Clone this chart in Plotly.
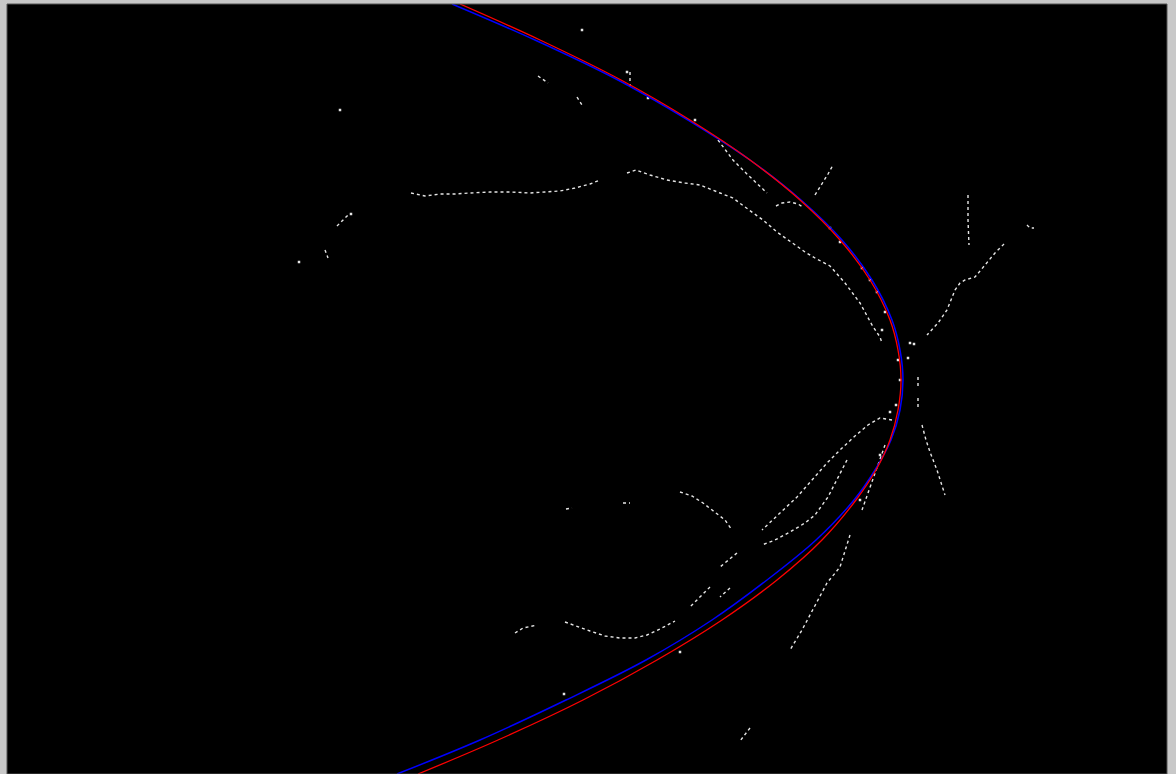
import plotly.graph_objects as go

# ---- fitted curves (image pixel coordinates) ----
curve_y = [4, 40, 80, 120, 160, 200, 240, 280, 320, 350, 380, 410, 440, 470, 500, 540, 580, 620, 660, 700, 740, 774]
red_x = [460, 540, 621, 690, 750, 800, 840, 870, 890, 898, 901, 898, 890, 876, 856, 822, 777, 722, 657, 583, 498, 418]
blue_x = [452, 535, 618, 688, 750, 801, 842, 872, 892, 900, 903, 900, 891, 875, 854, 816, 767, 712, 646, 566, 480, 397]

# ---- white edge fragments (x list, y list) ----
top_horizontal_x = [411, 425, 440, 455, 470, 490, 510, 530, 545, 560, 575, 590, 600]
top_horizontal_y = [193, 196, 194, 194, 193, 192, 192, 193, 192, 191, 188, 184, 180]
upper_long_x = [627, 636, 650, 667, 685, 700, 720, 733, 745, 763, 777, 790, 805, 815, 830, 845, 860, 872, 880, 882]
upper_long_y = [173, 170, 175, 180, 183, 185, 193, 198, 207, 220, 232, 241, 252, 258, 266, 283, 303, 325, 337, 343]
inner_parallel_x = [718, 733, 748, 756, 767]
inner_parallel_y = [140, 160, 175, 183, 193]
small_arc_x = [776, 782, 790, 798, 803]
small_arc_y = [206, 203, 202, 204, 207]
up_right_x = [815, 822, 828, 833]
up_right_y = [195, 184, 174, 165]
right_vertical_x = [968, 968, 969]
right_vertical_y = [195, 220, 245]
hook_x = [1027, 1030, 1034]
hook_y = [225, 228, 228]
right_diag_x = [1004, 995, 985, 975, 965, 960, 955, 947, 938, 927]
right_diag_y = [244, 253, 265, 277, 280, 283, 290, 310, 323, 335]
vert_dash_x = [918, 918, None, 918, 918]
vert_dash_y = [377, 388, None, 398, 408]
lower_right_x = [922, 926, 930, 937, 945]
lower_right_y = [425, 440, 452, 470, 495]
lower_arc_x = [892, 880, 868, 855, 840, 827, 812, 797, 780, 762]
lower_arc_y = [420, 418, 425, 436, 450, 463, 480, 497, 513, 530]
lower_mid_x = [847, 838, 828, 815, 805, 790, 775, 762]
lower_mid_y = [460, 478, 497, 515, 523, 532, 540, 545]
near_curve_x = [885, 878, 870, 862]
near_curve_y = [445, 465, 487, 510]
left_arc_x = [680, 692, 703, 715, 725, 732]
left_arc_y = [492, 496, 503, 512, 520, 530]
short_a_x = [566, 572, None, 623, 630]
short_a_y = [509, 508, None, 503, 503]
short_b_x = [737, 720, None, 710, 690, None, 730, 720]
short_b_y = [553, 567, None, 587, 607, None, 588, 597]
bottom_arc_x = [565, 578, 590, 605, 620, 635, 647, 660, 675]
bottom_arc_y = [622, 627, 631, 636, 638, 638, 635, 629, 621]
left_small_x = [515, 523, 537]
left_small_y = [633, 628, 625]
long_lower_x = [850, 845, 840, 827, 813, 802, 790]
long_lower_y = [535, 550, 567, 583, 610, 630, 650]
misc_x = [750, 740, None, 538, 548, None, 577, 582, None, 630, 630, None, 337, 348, None, 325, 328]
misc_y = [728, 741, None, 76, 83, None, 97, 105, None, 72, 87, None, 226, 215, None, 250, 258]

speck_x = [582, 340, 299, 351, 564, 648, 695, 830, 840, 862, 870, 877, 885, 882, 898, 900, 896, 890,
           880, 860, 910, 914, 908, 627, 680]
speck_y = [30, 110, 262, 214, 694, 98, 120, 228, 242, 268, 280, 292, 312, 330, 360, 380, 405, 412,
           455, 500, 343, 344, 358, 72, 652]

fragments = [
    (top_horizontal_x, top_horizontal_y), (upper_long_x, upper_long_y),
    (inner_parallel_x, inner_parallel_y), (small_arc_x, small_arc_y),
    (up_right_x, up_right_y), (right_vertical_x, right_vertical_y),
    (hook_x, hook_y), (right_diag_x, right_diag_y), (vert_dash_x, vert_dash_y),
    (lower_right_x, lower_right_y), (lower_arc_x, lower_arc_y),
    (lower_mid_x, lower_mid_y), (near_curve_x, near_curve_y),
    (left_arc_x, left_arc_y), (short_a_x, short_a_y), (short_b_x, short_b_y),
    (bottom_arc_x, bottom_arc_y), (left_small_x, left_small_y),
    (long_lower_x, long_lower_y), (misc_x, misc_y),
]

fx, fy = [], []
for xs, ys in fragments:
    fx += list(xs) + [None]
    fy += list(ys) + [None]

fig = go.Figure()
fig.add_trace(go.Scatter(x=fx, y=fy, mode="lines", connectgaps=False,
                         line=dict(color="#e6e6e6", width=1.4, dash="3px,3px"),
                         hoverinfo="skip"))
fig.add_trace(go.Scatter(x=speck_x, y=speck_y, mode="markers",
                         marker=dict(color="#e6e6e6", size=2.5, symbol="square"),
                         hoverinfo="skip"))
fig.add_trace(go.Scatter(x=blue_x, y=curve_y, mode="lines", line_shape="spline",
                         line=dict(color="#0000ff", width=1.5), hoverinfo="skip"))
fig.add_trace(go.Scatter(x=red_x, y=curve_y, mode="lines", line_shape="spline",
                         line=dict(color="#ff0000", width=1.3), hoverinfo="skip"))

fig.update_layout(
    width=1176, height=774,
    margin=dict(l=7, r=9, t=4, b=0, pad=0),
    paper_bgcolor="#c8c8c8", plot_bgcolor="#000000",
    showlegend=False, hovermode=False,
    xaxis=dict(range=[7, 1167], visible=False, fixedrange=True),
    yaxis=dict(range=[774, 4], visible=False, fixedrange=True),
    shapes=[dict(type="rect", xref="paper", yref="paper", x0=0, x1=1, y0=0, y1=1,
                 line=dict(color="#555555", width=1))],
)
fig.write_html("out.html", config={"displayModeBar": False, "staticPlot": True},
               post_script="document.body.style.margin='0';document.body.style.overflow='hidden';")
